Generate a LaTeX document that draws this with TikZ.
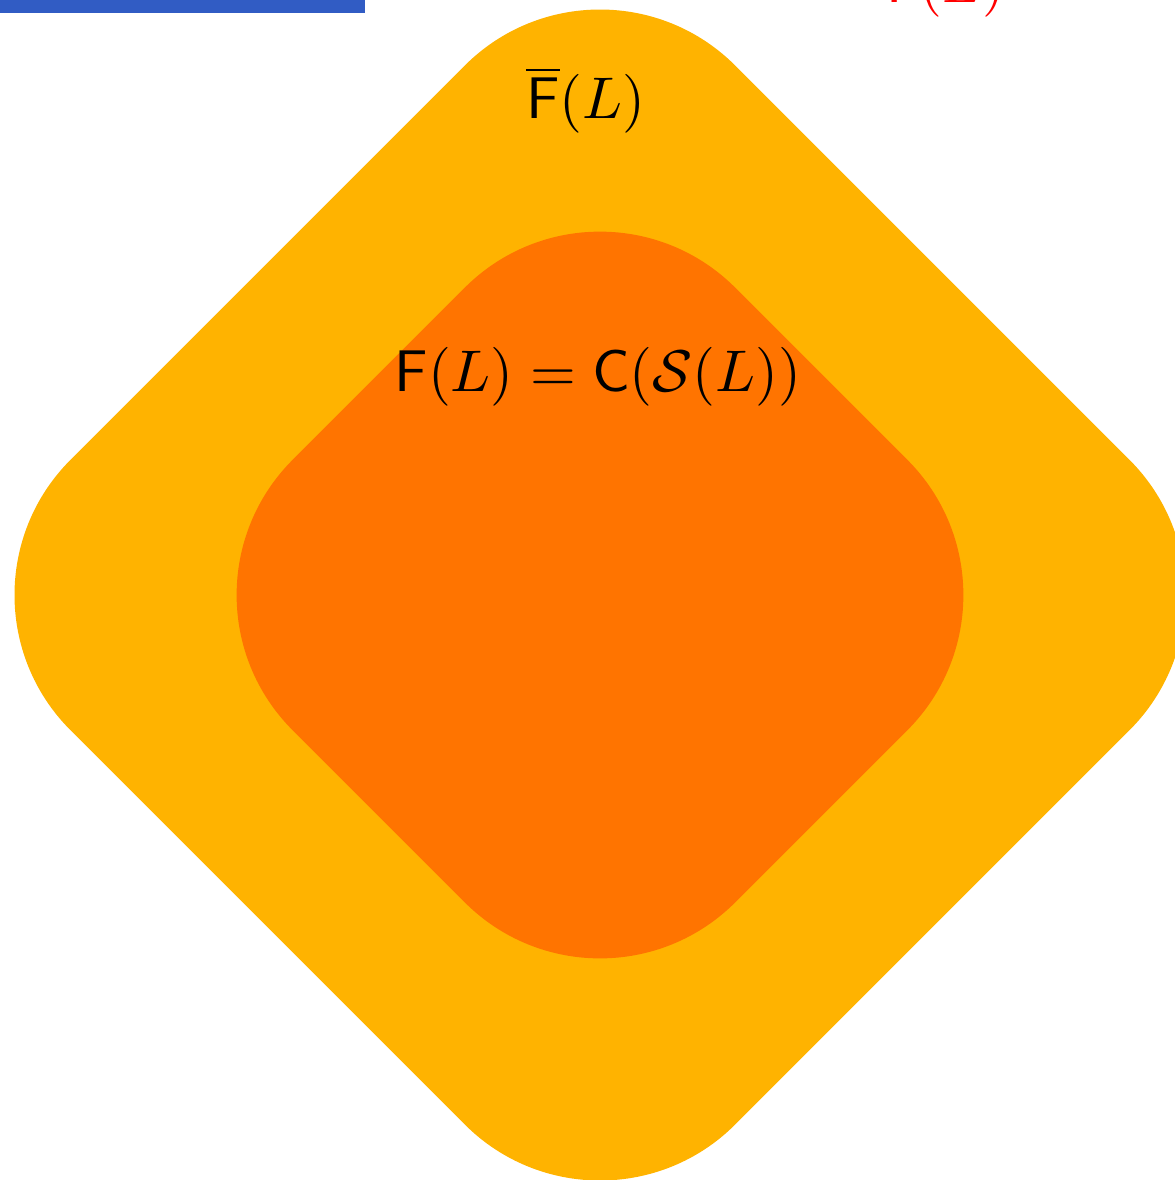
\documentclass[tikz,border=0pt]{standalone}
\usepackage{amsmath}
\begin{document}
\begin{tikzpicture}[
  x=0.17pt, y=-0.17pt,
  region/.style={rounded corners=32.5pt, rotate=45, inner sep=0pt, outer sep=0pt},
  lbl/.style={font=\fontsize{10.3}{12}\selectfont, inner sep=0pt}
]
\definecolor{outerc}{RGB}{255,179,0}
\definecolor{innerc}{RGB}{255,116,0}
\definecolor{barc}{RGB}{49,92,196}
\useasboundingbox (0,0) rectangle (1175,1180);
\fill[barc] (0,0) rectangle (365,13);
\node[lbl, text=red, anchor=base west] (top) at (885,2.5) {$\mathsf{F}(L)$};
\node[region, fill=outerc, minimum size=159.8pt] (closure) at (600,595) {};
\node[region, fill=innerc, minimum size=106.4pt] (fin) at (600,595) {};
\node[lbl] (closurelbl) at (586,100) {$\overline{\mathsf{F}}(L)$};
\node[lbl] (finlbl) at (598,377) {$\mathsf{F}(L) = \mathsf{C}(\mathcal{S}(L))$};
\end{tikzpicture}
\end{document}
